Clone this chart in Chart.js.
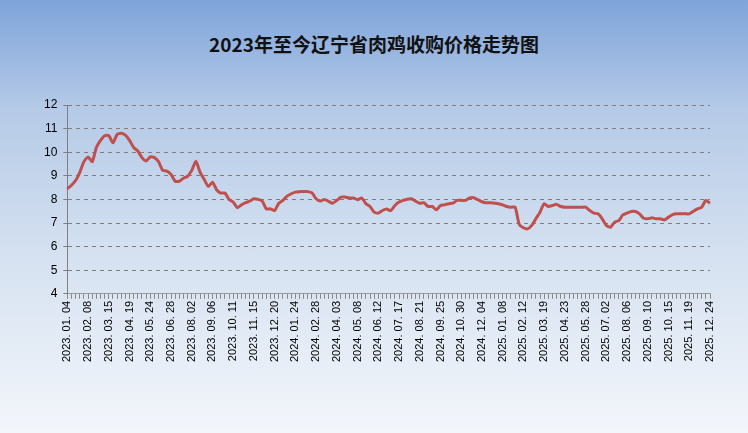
<!DOCTYPE html>
<html><head><meta charset="utf-8">
<script src="https://cdn.jsdelivr.net/npm/chart.js@4"></script>
<style>
html,body{margin:0;padding:0;}
#wrap{position:relative;width:748px;height:433px;background:linear-gradient(to bottom,#7ea4da 0%,#b5cae7 25%,#d6e2f1 60%,#f3f6fb 100%);}
#title{position:absolute;top:30px;left:0;width:748px;text-align:center;font:bold 19px "Noto Sans CJK SC";color:#111;}
canvas{position:absolute;left:0;top:0;}
</style></head><body>
<div id="wrap"><div id="title">2023年至今辽宁省肉鸡收购价格走势图</div><canvas id="c" width="748" height="433"></canvas></div>
<script>
const tickLabels=["2023.01.04","2023.02.08","2023.03.15","2023.04.19","2023.05.24","2023.06.28","2023.08.02","2023.09.06","2023.10.11","2023.11.15","2023.12.20","2024.01.24","2024.02.28","2024.04.03","2024.05.08","2024.06.12","2024.07.17","2024.08.21","2024.09.25","2024.10.30","2024.12.04","2025.01.08","2025.02.12","2025.03.19","2025.04.23","2025.05.28","2025.07.02","2025.08.06","2025.09.10","2025.10.15","2025.11.19","2025.12.24"];
const prices=[8.45,8.6,8.8,9.15,9.6,9.8,9.6,10.2,10.5,10.7,10.7,10.4,10.75,10.8,10.72,10.5,10.2,10.05,9.77,9.63,9.8,9.77,9.6,9.23,9.2,9.06,8.77,8.77,8.9,8.98,9.23,9.62,9.16,8.85,8.55,8.73,8.41,8.27,8.27,8.0,7.89,7.65,7.77,7.86,7.93,8.03,8.0,7.93,7.6,7.6,7.53,7.84,
7.96,8.14,8.24,8.31,8.33,8.33,8.33,8.28,8.03,7.93,8.0,7.92,7.84,7.96,8.1,8.1,8.06,8.06,7.99,8.06,7.82,7.7,7.46,7.42,7.53,7.59,7.53,7.74,7.89,7.96,8.01,8.03,7.92,7.84,7.86,7.7,7.7,7.56,7.74,7.77,7.82,7.84,7.96,7.96,7.96,8.06,8.07,7.99,7.9,7.86,7.86,7.84,7.82,
7.77,7.7,7.67,7.67,6.94,6.8,6.75,6.9,7.18,7.46,7.82,7.7,7.74,7.79,7.7,7.67,7.67,7.67,7.67,7.67,7.67,7.53,7.42,7.39,7.18,6.9,6.82,7.04,7.1,7.35,7.42,7.49,7.49,7.39,7.2,7.18,7.22,7.18,7.18,7.13,7.25,7.36,7.39,7.39,7.39,7.39,7.5,7.6,7.67,7.96,7.84];
const labels=prices.map((v,i)=>i%5===0?tickLabels[i/5].replace(/\./g,'. '):'');
new Chart(document.getElementById('c'),{type:'line',
data:{labels:labels,datasets:[{data:prices,borderColor:'#c0504d',borderWidth:3,pointRadius:0,tension:0.2,fill:false}]},
options:{responsive:false,animation:false,
layout:{padding:{top:105,left:38,right:38,bottom:69}},
plugins:{legend:{display:false},tooltip:{enabled:false}},
scales:{
x:{grid:{display:true,drawOnChartArea:false,tickLength:5,color:'#888'},border:{color:'#999'},
ticks:{autoSkip:false,maxRotation:90,minRotation:90,color:'#000',font:{size:11,family:'Liberation Sans'},padding:2,callback:function(v,i){return labels[i];}}},
y:{min:4,max:12,ticks:{stepSize:1,color:'#000',font:{size:12,family:'Liberation Sans'},padding:6},
grid:{color:'#7f7f7f',lineWidth:1,tickLength:4},border:{dash:[4,4],color:'#7f7f7f'},
}}}});
</script>
</body></html>
